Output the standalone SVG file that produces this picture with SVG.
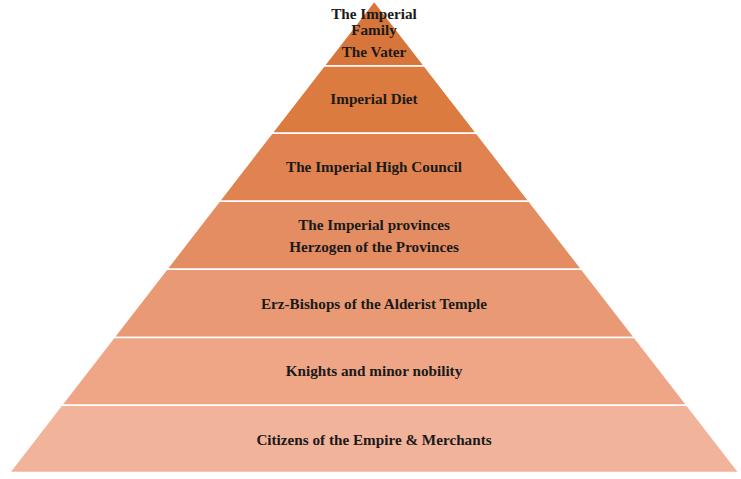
<svg xmlns="http://www.w3.org/2000/svg" width="741" height="479" viewBox="0 0 741 479">
<style>
.layer{stroke:#FFFFFF;stroke-width:1.6;stroke-linejoin:miter}
.lbl{font-family:"Liberation Serif","Times New Roman",serif;font-weight:bold;font-size:15.2px;fill:#1a1a1a;text-anchor:middle}
</style>
<rect width="741" height="479" fill="#FFFFFF"/>
<g id="layer1">
<polygon class="layer" fill="#D8753B" points="374.2,1 424.5,66 323.9,66"/>
<text class="lbl" x="374" y="19">The Imperial</text>
<text class="lbl" x="374" y="35">Family</text>
<text class="lbl" x="374" y="56.5">The Vater</text>
</g>
<g id="layer2">
<polygon class="layer" fill="#DC7B3F" points="323.9,66 424.5,66 476.6,133.3 271.8,133.3"/>
<text class="lbl" x="374" y="103.5">Imperial Diet</text>
</g>
<g id="layer3">
<polygon class="layer" fill="#E08350" points="271.8,133.3 476.6,133.3 529.2,201.3 219.2,201.3"/>
<text class="lbl" x="374" y="172">The Imperial High Council</text>
</g>
<g id="layer4">
<polygon class="layer" fill="#E58D62" points="219.2,201.3 529.2,201.3 581.8,269.3 166.6,269.3"/>
<text class="lbl" x="374" y="229.5">The Imperial provinces</text>
<text class="lbl" x="374" y="251.5">Herzogen of the Provinces</text>
</g>
<g id="layer5">
<polygon class="layer" fill="#E99A74" points="166.6,269.3 581.8,269.3 634.6,337.5 113.8,337.5"/>
<text class="lbl" x="374" y="308.5">Erz-Bishops of the Alderist Temple</text>
</g>
<g id="layer6">
<polygon class="layer" fill="#EEA686" points="113.8,337.5 634.6,337.5 687,405.3 61.4,405.3"/>
<text class="lbl" x="374" y="376">Knights and minor nobility</text>
</g>
<g id="layer7">
<polygon class="layer" fill="#F2B39B" points="61.4,405.3 687,405.3 739,472.5 9.4,472.5"/>
<text class="lbl" x="374" y="444.5">Citizens of the Empire &amp; Merchants</text>
</g>
<g id="connectors"/>
</svg>
